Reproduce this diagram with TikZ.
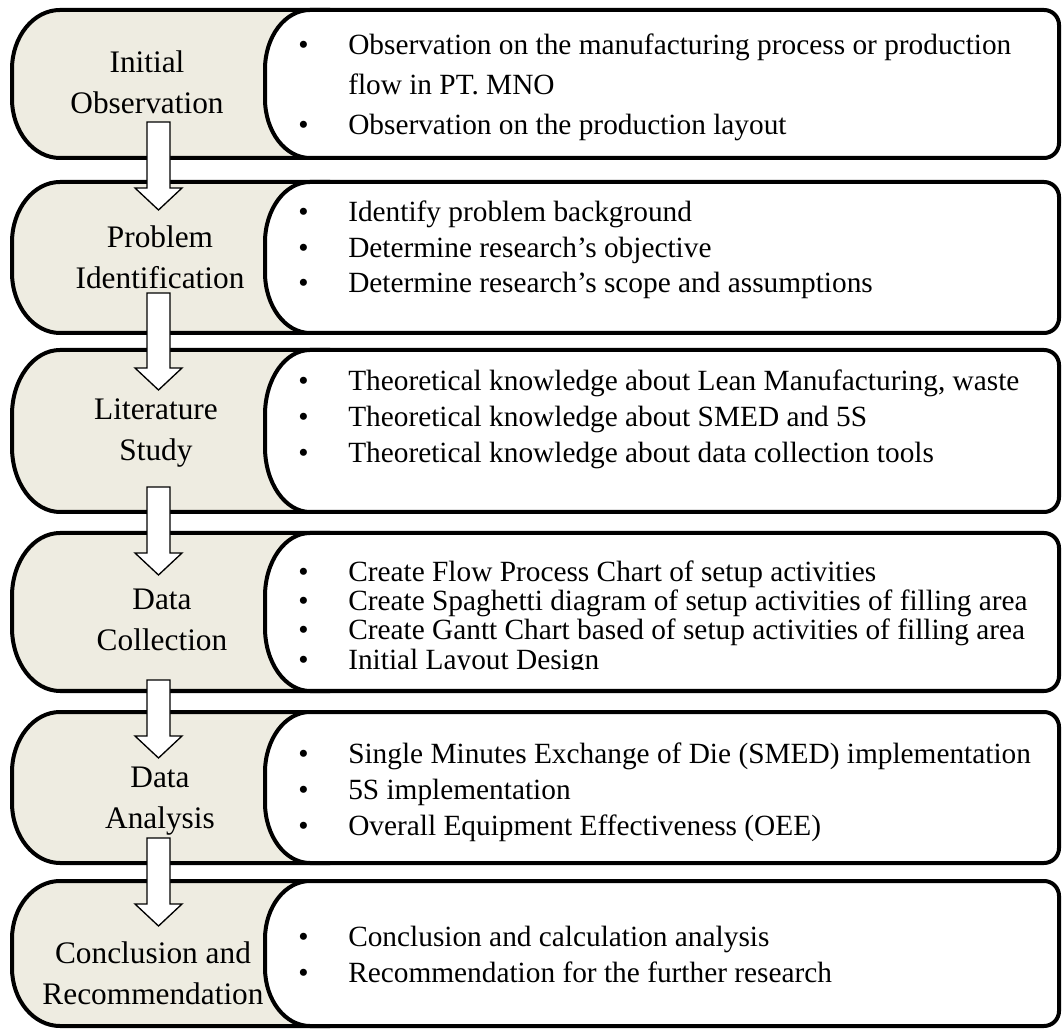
\documentclass[tikz,border=0pt]{standalone}
\usepackage{fontspec}
\setmainfont{Liberation Serif}
\usetikzlibrary{calc}
\definecolor{stagetan}{HTML}{EEECE1}
\newcommand\bl{\makebox[37.5pt][l]{\textbullet}}
\newcommand\ind{\hspace*{37.5pt}}
\newcommand\stagerow[2]{%
  \pgfmathsetmacro\rr{0.4*(#1-#2)}%
  \path[stageshape] (330,#1) -- (60,#1) arc[start angle=90,end angle=180,x radius=48,y radius=\rr] -- (12,#2+\rr) arc[start angle=180,end angle=270,x radius=48,y radius=\rr] -- (330,#2) -- cycle;
  \path[boxshape] (310,#1) -- (1044,#1) arc[start angle=90,end angle=0,radius=15] -- (1059,#2+15) arc[start angle=0,end angle=-90,radius=15] -- (310,#2) arc[start angle=270,end angle=180,x radius=45,y radius=\rr] -- (265,#1-\rr) arc[start angle=180,end angle=90,x radius=45,y radius=\rr] -- cycle;
}
\newcommand\blockarr[2]{%
  \draw[blockarrow] ($(#1)+(-11.5,0)$) -- ($(#2)+(-11.5,22)$) -- ($(#2)+(-23.5,22)$) -- (#2) -- ($(#2)+(23.5,22)$) -- ($(#2)+(11.5,22)$) -- ($(#1)+(11.5,0)$) -- cycle;}
\begin{document}
\begin{tikzpicture}[x=0.75pt,y=0.75pt,line join=round,
  stageshape/.style={fill=stagetan,draw=black,line width=3pt},
  boxshape/.style={fill=white,draw=black,line width=3pt},
  lab/.style={align=center,inner sep=0pt,font=\fontsize{23.5}{30.5}\selectfont},
  items/.style={align=left,inner sep=0pt,anchor=west},
  blockarrow/.style={fill=white,draw=black,line width=1pt,line join=miter}]
\useasboundingbox (0,0) rectangle (1062,1028);
\fill[white] (0,0) rectangle (1062,1028);
% rows
\stagerow{1018}{870}
\stagerow{846}{695}
\stagerow{678}{516}
\stagerow{495}{337}
\stagerow{316}{165}
\stagerow{147}{2}
% labels
\node[lab] (l1) at (147,946) {Initial\\Observation};
\node[lab] (l2) at (160,771) {Problem\\Identification};
\node[lab] (l3) at (156,595) {Literature\\Study};
\node[lab] (l4) at (162,408) {Data\\Collection};
\node[lab] (l5) at (160,227) {Data\\Analysis};
\node[lab] (l6) at (153,55) {Conclusion and\\Recommendation};
% items
\node[items,font=\fontsize{22}{30}\selectfont] (t1) at (298,941) {\bl Observation on the manufacturing process or production\\ \ind flow in PT. MNO\\ \bl Observation on the production layout};
\node[items,font=\fontsize{22}{26.6}\selectfont] (t2) at (298,778) {\bl Identify problem background\\ \bl Determine research’s objective\\ \bl Determine research’s scope and assumptions};
\node[items,font=\fontsize{22}{27}\selectfont] (t3) at (298,609) {\bl Theoretical knowledge about Lean Manufacturing, waste\\ \bl Theoretical knowledge about SMED and 5S\\ \bl Theoretical knowledge about data collection tools};
\begin{scope}
\clip (250,358) rectangle (1062,500);
\node[items,font=\fontsize{22}{22}\selectfont] (t4) at (298,410) {\bl Create Flow Process Chart of setup activities\\ \bl Create Spaghetti diagram of setup activities of filling area\\ \bl Create Gantt Chart based of setup activities of filling area\\ \bl Initial Layout Design};
\end{scope}
\node[items,font=\fontsize{22}{27}\selectfont] (t5) at (298,236) {\bl Single Minutes Exchange of Die (SMED) implementation\\ \bl 5S implementation\\ \bl Overall Equipment Effectiveness (OEE)};
\node[items,font=\fontsize{22}{27}\selectfont] (t6) at (298,74) {\bl Conclusion and calculation analysis\\ \bl Recommendation for the further research};
% arrows
\coordinate (a1s) at (158.5,906); \coordinate (a1t) at (158.5,818);
\coordinate (a2s) at (158.5,735); \coordinate (a2t) at (158.5,638);
\coordinate (a3s) at (158.5,541); \coordinate (a3t) at (158.5,453);
\coordinate (a4s) at (158.5,348); \coordinate (a4t) at (158.5,270);
\coordinate (a5s) at (158.5,190); \coordinate (a5t) at (158.5,102);
\blockarr{a1s}{a1t}
\blockarr{a2s}{a2t}
\blockarr{a3s}{a3t}
\blockarr{a4s}{a4t}
\blockarr{a5s}{a5t}
\end{tikzpicture}
\end{document}
